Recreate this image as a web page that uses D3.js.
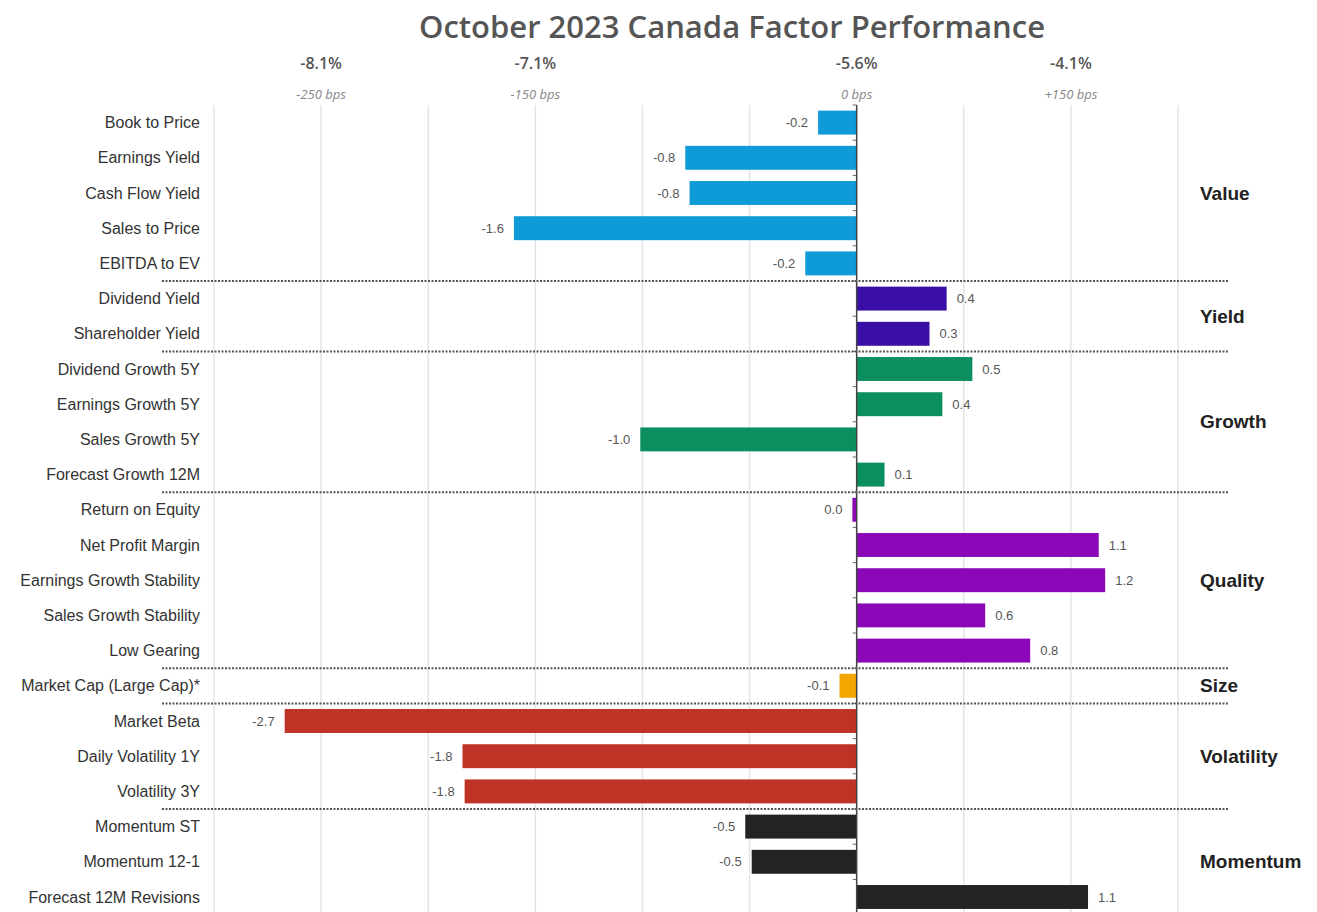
<!DOCTYPE html>
<html>
<head>
<meta charset="utf-8">
<script src="https://cdn.jsdelivr.net/npm/d3@7"></script>
<style>
  body { margin: 0; background: #fff; }
  .rowlabel { font-family: "Liberation Sans", Arial, sans-serif; font-size: 16px; fill: #333; }
  .vallabel { font-family: "Liberation Sans", Arial, sans-serif; font-size: 13px; fill: #555; }
  .grouplabel { font-family: "Liberation Sans", Arial, sans-serif; font-size: 19px; font-weight: bold; fill: #222; }
  .toppct { font-family: "Open Sans", sans-serif; font-size: 16px; font-weight: 600; fill: #555; }
  .topbps { font-family: "Open Sans", sans-serif; font-size: 13px; font-style: italic; fill: #888; }
  .title { font-family: "Open Sans", sans-serif; font-size: 31px; font-weight: 600; fill: #555; }
</style>
</head>
<body>
<div id="chart"></div>
<script>
// factor names, top to bottom
let factors = ["Book to Price","Earnings Yield","Cash Flow Yield","Sales to Price","EBITDA to EV",
  "Dividend Yield","Shareholder Yield",
  "Dividend Growth 5Y","Earnings Growth 5Y","Sales Growth 5Y","Forecast Growth 12M",
  "Return on Equity","Net Profit Margin","Earnings Growth Stability","Sales Growth Stability","Low Gearing",
  "Market Cap (Large Cap)*",
  "Market Beta","Daily Volatility 1Y","Volatility 3Y",
  "Momentum ST","Momentum 12-1","Forecast 12M Revisions"];
let values = [-0.18,-0.80,-0.78,-1.60,-0.24,
  0.42,0.34,
  0.54,0.40,-1.01,0.13,
  -0.02,1.13,1.16,0.60,0.81,
  -0.08,
  -2.67,-1.84,-1.83,
  -0.52,-0.49,1.08];
let groupOf = ["Value","Value","Value","Value","Value",
  "Yield","Yield",
  "Growth","Growth","Growth","Growth",
  "Quality","Quality","Quality","Quality","Quality",
  "Size",
  "Volatility","Volatility","Volatility",
  "Momentum","Momentum","Momentum"];
let groups = ["Value","Yield","Growth","Quality","Size","Volatility","Momentum"];
let groupColors = ["#0f9ad8","#3a0fa8","#0b8f5e","#8b08b8","#f5a500","#bf3326","#232323"];

// top reference labels (position in bar units)
let topTickAt = [-2.5,-1.5,0,1.0];
let topTickPct = ["-8.1%","-7.1%","-5.6%","-4.1%"];
let topTickBps = ["-250 bps","-150 bps","0 bps","+150 bps"];

let width = 1317, height = 912;
let chartTop = 105;
let step = 35.2;

let svg = d3.select("#chart").append("svg")
  .attr("width", width)
  .attr("height", height);

let x = d3.scaleLinear().domain([-3, 1.5]).range([214, 1178]);
let y = d3.scaleBand().domain(factors)
  .range([chartTop, chartTop + factors.length*step])
  .paddingInner(0.32).paddingOuter(0.16);
let color = d3.scaleOrdinal().domain(groups).range(groupColors);

svg.append("text")
  .attr("class","title")
  .attr("x", 732).attr("y", 38)
  .attr("text-anchor","middle")
  .text("October 2023 Canada Factor Performance");

// gridlines
svg.selectAll(".grid")
  .data(x.ticks(9))
.enter().append("line")
  .attr("x1", function(d){ return x(d); })
  .attr("x2", function(d){ return x(d); })
  .attr("y1", chartTop)
  .attr("y2", height)
  .attr("stroke","#e4e4e4")
  .attr("stroke-width",1.5);

// top labels
svg.selectAll(".toppct")
  .data(topTickAt)
.enter().append("text")
  .attr("class","toppct")
  .attr("x", function(d){ return x(d); })
  .attr("y", 69)
  .attr("text-anchor","middle")
  .text(function(d,i){ return topTickPct[i]; });

svg.selectAll(".topbps")
  .data(topTickAt)
.enter().append("text")
  .attr("class","topbps")
  .attr("x", function(d){ return x(d); })
  .attr("y", 99)
  .attr("text-anchor","middle")
  .text(function(d,i){ return topTickBps[i]; });

let gap = (y.step() - y.bandwidth())/2;

// bars
svg.selectAll(".bar")
  .data(factors)
.enter().append("rect")
  .attr("x", function(d,i){ return x(Math.min(0, values[i])); })
  .attr("y", function(d){ return y(d); })
  .attr("width", function(d,i){ return Math.abs(x(values[i]) - x(0)); })
  .attr("height", y.bandwidth())
  .attr("fill", function(d,i){ return color(groupOf[i]); });

// zero axis with small ticks
svg.append("line")
  .attr("x1", x(0)).attr("x2", x(0))
  .attr("y1", chartTop).attr("y2", height)
  .attr("stroke","#444").attr("stroke-width",1.5);
svg.selectAll(".tick")
  .data(factors)
.enter().append("line")
  .attr("x1", x(0)-4).attr("x2", x(0))
  .attr("y1", function(d){ return y(d) - gap; })
  .attr("y2", function(d){ return y(d) - gap; })
  .attr("stroke","#666").attr("stroke-width",1);

// row labels
svg.selectAll(".rowlabel")
  .data(factors)
.enter().append("text")
  .attr("class","rowlabel")
  .attr("x", 200)
  .attr("y", function(d){ return y(d) + y.bandwidth()/2; })
  .attr("dy","0.35em")
  .attr("text-anchor","end")
  .text(function(d){ return d; });

// value labels
function fmt(v){
  let s = v.toFixed(1);
  if (s === "-0.0") s = "0.0";
  return s;
}
svg.selectAll(".vallabel")
  .data(factors)
.enter().append("text")
  .attr("class","vallabel")
  .attr("x", function(d,i){ return values[i] < 0 ? x(values[i]) - 10 : x(values[i]) + 10; })
  .attr("y", function(d){ return y(d) + y.bandwidth()/2; })
  .attr("dy","0.35em")
  .attr("text-anchor", function(d,i){ return values[i] < 0 ? "end" : "start"; })
  .text(function(d,i){ return fmt(values[i]); });

// group separators and labels
let groupInfo = groups.map(function(g){
  let idx = [];
  groupOf.forEach(function(k,i){ if (k === g) idx.push(i); });
  let y0 = y(factors[idx[0]]) - gap;
  let y1 = y(factors[idx[idx.length-1]]) + y.bandwidth() + gap;
  return {name: g, y0: y0, y1: y1};
});

svg.selectAll(".sep")
  .data(groupInfo.slice(1))
.enter().append("line")
  .attr("x1", 162).attr("x2", 1228)
  .attr("y1", function(d){ return d.y0; })
  .attr("y2", function(d){ return d.y0; })
  .attr("stroke","#555")
  .attr("stroke-width",2)
  .attr("stroke-dasharray","2,1.5");

svg.selectAll(".grouplabel")
  .data(groupInfo)
.enter().append("text")
  .attr("class","grouplabel")
  .attr("x", 1200)
  .attr("y", function(d){ return (d.y0 + d.y1)/2; })
  .attr("dy","0.35em")
  .text(function(d){ return d.name; });
</script>
</body>
</html>
